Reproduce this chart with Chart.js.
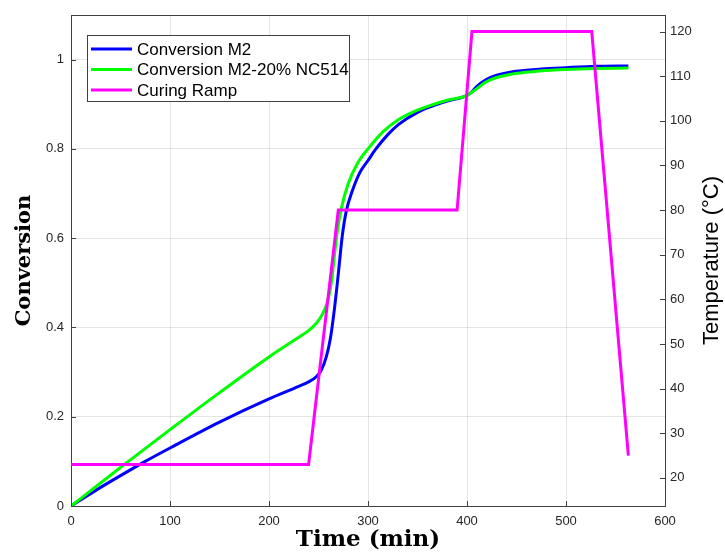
<!DOCTYPE html>
<html>
<head>
<meta charset="utf-8">
<script src="https://cdn.jsdelivr.net/npm/chart.js@4.4.0/dist/chart.umd.min.js"></script>
<style>
  html, body { margin: 0; padding: 0; background: #fff; }
</style>
</head>
<body>
<canvas id="chart" width="725" height="554"></canvas>
<script>
// conversion curves
var timeM2 = [0, 25, 50, 75, 100, 150, 200, 230, 240, 248, 253, 258, 262, 266, 270, 274, 278, 284, 292, 300, 308, 320, 331, 350, 365, 380, 400, 405, 410, 419, 430, 449, 475, 500, 530, 563];
var convM2 = [0, 0.035, 0.068, 0.1, 0.13, 0.188, 0.24, 0.268, 0.278, 0.29, 0.305, 0.335, 0.375, 0.44, 0.52, 0.605, 0.66, 0.705, 0.748, 0.774, 0.8, 0.832, 0.855, 0.882, 0.896, 0.907, 0.92, 0.928, 0.94, 0.955, 0.965, 0.974, 0.979, 0.982, 0.985, 0.986];

var timeNC = [0, 25, 55, 100, 150, 200, 230, 240, 248, 254, 259, 263, 266, 269, 273, 280, 290, 300, 315, 331, 350, 365, 380, 400, 410, 419, 430, 449, 475, 500, 530, 563];
var convNC = [0, 0.043, 0.095, 0.171, 0.254, 0.334, 0.378, 0.393, 0.41, 0.43, 0.457, 0.5, 0.56, 0.615, 0.666, 0.722, 0.77, 0.8, 0.838, 0.866, 0.887, 0.899, 0.909, 0.92, 0.935, 0.95, 0.96, 0.969, 0.975, 0.978, 0.98, 0.981];

// curing ramp, temperature in °C
var rampTime = [0, 240, 270, 390, 405, 526, 563];
var rampTemp = [23, 23, 80, 80, 120, 120, 25];

var timeTicks = [0, 100, 200, 300, 400, 500, 600];
var convTicks = [0, 0.2, 0.4, 0.6, 0.8, 1];
var tempTicks = [20, 30, 40, 50, 60, 70, 80, 90, 100, 110, 120];

var seriesLabels = ["Conversion M2", "Conversion M2-20% NC514", "Curing Ramp"];
var seriesColors = ["#0000ff", "#00ff00", "#ff00ff"];

function points(xs, ys) {
  return xs.map(function(x, i) {
    return { x: x, y: ys[i] };
  });
}

function fixedTicks(values) {
  return function(scale) {
    scale.ticks = values.map(function(v) { return { value: v }; });
  };
}

var axisColor = "#404040";
var tickFont = { family: "'Liberation Sans', Arial, sans-serif", size: 13 };

// legend box inside the axes, inward tick marks, top border, right axis title
var extras = {
  id: "extras",
  afterDraw: function(chart) {
    var ctx = chart.ctx;
    var area = chart.chartArea;
    var sx = chart.scales.x, sy = chart.scales.y, sy2 = chart.scales.y2;

    ctx.save();
    ctx.strokeStyle = axisColor;
    ctx.lineWidth = 1;
    ctx.beginPath();
    ctx.moveTo(area.left, area.top + 0.5);
    ctx.lineTo(area.right, area.top + 0.5);
    sx.ticks.forEach(function(t) {
      var px = Math.round(sx.getPixelForValue(t.value)) + 0.5;
      ctx.moveTo(px, area.bottom);
      ctx.lineTo(px, area.bottom - 5);
    });
    sy.ticks.forEach(function(t) {
      var py = Math.round(sy.getPixelForValue(t.value)) + 0.5;
      ctx.moveTo(area.left, py);
      ctx.lineTo(area.left + 5, py);
    });
    sy2.ticks.forEach(function(t) {
      var py = Math.round(sy2.getPixelForValue(t.value)) + 0.5;
      ctx.moveTo(area.right, py);
      ctx.lineTo(area.right - 5, py);
    });
    ctx.stroke();

    // legend
    var lx = area.left + 16, ly = area.top + 20, lw = 262, lh = 66;
    ctx.fillStyle = "#fff";
    ctx.fillRect(lx, ly, lw, lh);
    ctx.strokeStyle = axisColor;
    ctx.strokeRect(lx + 0.5, ly + 0.5, lw, lh);
    ctx.font = "17px 'Liberation Sans', Arial, sans-serif";
    ctx.textBaseline = "middle";
    ctx.textAlign = "left";
    chart.data.datasets.forEach(function(ds, i) {
      var rowY = ly + 14 + i * 20.5;
      ctx.strokeStyle = ds.borderColor;
      ctx.lineWidth = 3;
      ctx.beginPath();
      ctx.moveTo(lx + 4, rowY);
      ctx.lineTo(lx + 45, rowY);
      ctx.stroke();
      ctx.fillStyle = "#000";
      ctx.fillText(ds.label, lx + 50, rowY + 1);
    });

    // right axis title, reading bottom to top
    ctx.translate(712, (area.top + area.bottom) / 2);
    ctx.rotate(-Math.PI / 2);
    ctx.textAlign = "center";
    ctx.font = "22px 'Liberation Sans', Arial, sans-serif";
    ctx.fillStyle = "#000";
    ctx.fillText("Temperature (°C)", 0, 0);
    ctx.restore();
  }
};

var chart = new Chart(document.getElementById("chart").getContext("2d"), {
  type: "line",
  data: {
    datasets: [{
      label: seriesLabels[0],
      data: points(timeM2, convM2),
      borderColor: seriesColors[0],
      borderWidth: 3,
      pointRadius: 0,
      cubicInterpolationMode: "monotone",
      yAxisID: "y",
      order: 3
    }, {
      label: seriesLabels[1],
      data: points(timeNC, convNC),
      borderColor: seriesColors[1],
      borderWidth: 3,
      pointRadius: 0,
      cubicInterpolationMode: "monotone",
      yAxisID: "y",
      order: 2
    }, {
      label: seriesLabels[2],
      data: points(rampTime, rampTemp),
      borderColor: seriesColors[2],
      borderWidth: 3,
      pointRadius: 0,
      tension: 0,
      yAxisID: "y2",
      order: 1
    }]
  },
  options: {
    responsive: false,
    animation: false,
    layout: { padding: { top: 15, left: 0, right: 0, bottom: 0 } },
    plugins: {
      legend: { display: false },
      tooltip: { enabled: false }
    },
    scales: {
      x: {
        type: "linear",
        min: 0,
        max: 600,
        afterBuildTicks: fixedTicks(timeTicks),
        afterFit: function(scale) { scale.height = 48; },
        grid: { color: "rgba(0,0,0,0.1)", drawTicks: false },
        border: { color: axisColor },
        ticks: { font: tickFont, color: "#262626", padding: 8, maxRotation: 0 },
        title: {
          display: true,
          text: "Time (min)",
          color: "#000",
          font: { family: "'DejaVu Serif', serif", size: 23, weight: "bold", lineHeight: 1 },
          padding: { top: 0, bottom: 2 }
        }
      },
      y: {
        position: "left",
        min: 0,
        max: 1.1,
        afterBuildTicks: fixedTicks(convTicks),
        afterFit: function(scale) { scale.width = 71; },
        grid: { color: "rgba(0,0,0,0.1)", drawTicks: false },
        border: { color: axisColor },
        ticks: {
          font: tickFont,
          color: "#262626",
          padding: 7,
          callback: function(v) { return String(+v.toFixed(1)); }
        },
        title: {
          display: true,
          text: "Conversion",
          color: "#000",
          font: { family: "'DejaVu Serif', serif", size: 21, weight: "bold", lineHeight: 1 },
          padding: { top: 14, bottom: 0 }
        }
      },
      y2: {
        position: "right",
        min: 13.7,
        max: 123.7,
        afterBuildTicks: fixedTicks(tempTicks),
        afterFit: function(scale) { scale.width = 60; },
        grid: { drawOnChartArea: false, drawTicks: false },
        border: { color: axisColor },
        ticks: { font: tickFont, color: "#262626", padding: 5 }
      }
    }
  },
  plugins: [extras]
});
</script>
</body>
</html>
